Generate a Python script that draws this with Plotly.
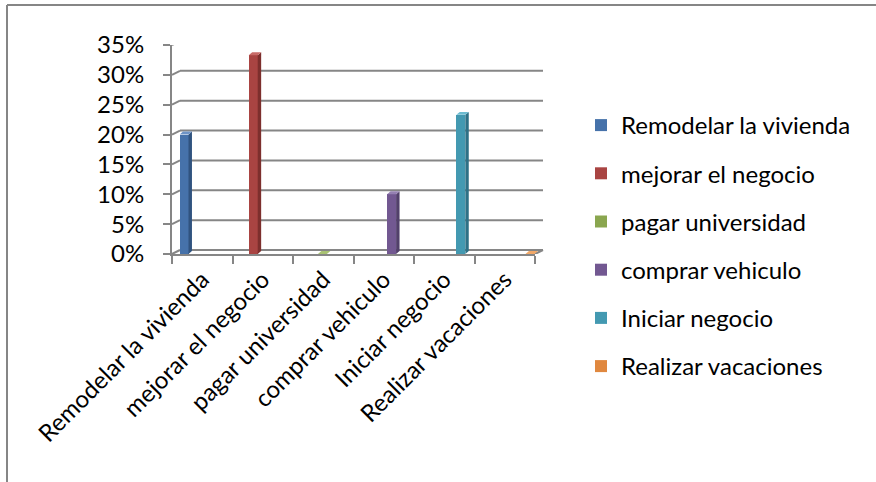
import plotly.graph_objects as go

# ---- data -------------------------------------------------------------
categories = [
    "Remodelar la vivienda",
    "mejorar el negocio",
    "pagar universidad",
    "comprar vehiculo",
    "Iniciar negocio",
    "Realizar vacaciones",
]
shares = [0.20, 0.333, 0.0, 0.10, 0.233, 0.0]
y_ticks = [0.0, 0.05, 0.10, 0.15, 0.20, 0.25, 0.30, 0.35]
y_tick_labels = ["0%", "5%", "10%", "15%", "20%", "25%", "30%", "35%"]

# ---- styling ----------------------------------------------------------
front_colors = ["#4672AA", "#A94442", "#8AA64F", "#725891", "#4399B1", "#E0883F"]
side_colors = ["#30537F", "#7D2F2D", "#657C38", "#52406B", "#2E7186", "#A8632C"]
top_colors = ["#6D93C6", "#C86A67", "#A9C273", "#9580B2", "#6CBBD0", "#F2A868"]
GRID = "#868686"
FONT = dict(family="Lato", size=24, color="#000000")

W, H = 876, 482


def px(x):
    return x / W


def py(y):
    return 1 - y / H


BAR_W = 0.13      # bar width in bar-axis units
DEPTH_X = 0.05    # 3D depth offset, bar-axis units
DEPTH_Y = 0.005   # 3D depth offset, value units

fig = go.Figure()

for i, (name, v) in enumerate(zip(categories, shares)):
    left, right = i - BAR_W / 2, i + BAR_W / 2
    fig.add_trace(go.Bar(
        x=[i], y=[v], width=BAR_W, name=name, legendgroup=name,
        marker=dict(color=front_colors[i], line_width=0),
        xaxis="x2", yaxis="y", hoverinfo="skip",
    ))
    # side face
    fig.add_trace(go.Scatter(
        x=[right, right, right + DEPTH_X, right + DEPTH_X, right],
        y=[0, v, v + DEPTH_Y, DEPTH_Y, 0],
        fill="toself", fillcolor=side_colors[i], mode="lines",
        line=dict(width=0, color=side_colors[i]),
        showlegend=False, legendgroup=name, hoverinfo="skip",
        xaxis="x2", yaxis="y",
    ))
    # top face
    fig.add_trace(go.Scatter(
        x=[left, right, right + DEPTH_X, left + DEPTH_X, left],
        y=[v, v, v + DEPTH_Y, v + DEPTH_Y, v],
        fill="toself", fillcolor=top_colors[i], mode="lines",
        line=dict(width=0, color=top_colors[i]),
        showlegend=False, legendgroup=name, hoverinfo="skip",
        xaxis="x2", yaxis="y",
    ))

# back wall gridlines with their short diagonal joins to the value axis
shapes = []
for v in y_ticks:
    shapes.append(dict(
        type="line", layer="below", xref="paper", yref="y",
        ysizemode="pixel", yanchor=v,
        x0=px(180), x1=px(543), y0=4, y1=4,
        line=dict(color=GRID, width=2),
    ))
    shapes.append(dict(
        type="line", layer="below", xref="paper", yref="y",
        ysizemode="pixel", yanchor=v,
        x0=px(172), x1=px(180), y0=0, y1=4,
        line=dict(color=GRID, width=2),
    ))
# right end of the floor
shapes.append(dict(
    type="line", layer="below", xref="paper", yref="y",
    ysizemode="pixel", yanchor=y_ticks[0],
    x0=px(535), x1=px(543), y0=0, y1=4,
    line=dict(color=GRID, width=2),
))
# chart frame
shapes.append(dict(type="line", xref="paper", yref="paper",
                   x0=px(7), x1=1, y0=py(5), y1=py(5),
                   line=dict(color=GRID, width=2)))
shapes.append(dict(type="line", xref="paper", yref="paper",
                   x0=px(7), x1=px(7), y0=py(5), y1=0,
                   line=dict(color=GRID, width=2)))

fig.update_layout(
    width=W, height=H, autosize=False,
    margin=dict(l=0, r=0, t=0, b=0, autoexpand=False),
    paper_bgcolor="white", plot_bgcolor="rgba(0,0,0,0)",
    font=FONT,
    bargap=0,
    shapes=shapes,
    xaxis=dict(
        domain=[px(172), px(535)], anchor="y",
        type="category", categoryorder="array", categoryarray=categories,
        range=[-0.5, len(categories) - 0.5],
        tickson="boundaries", ticks="outside", ticklen=8,
        tickcolor=GRID, tickwidth=2,
        showline=True, linecolor=GRID, linewidth=2,
        showgrid=False, zeroline=False, automargin=False,
        tickangle=-45, tickfont=FONT, fixedrange=True,
    ),
    xaxis2=dict(
        domain=[px(180), px(543)], anchor="y",
        range=[-0.0578, 5.188], visible=False, fixedrange=True,
    ),
    yaxis=dict(
        domain=[py(254), py(45)], anchor="x",
        range=[0, 0.35], tickvals=y_ticks, ticktext=y_tick_labels,
        ticks="outside", ticklen=7, tickcolor=GRID, tickwidth=2,
        showline=True, linecolor=GRID, linewidth=2,
        showgrid=False, zeroline=False, tickfont=FONT, automargin=False,
        ticklabelstandoff=14, fixedrange=True,
    ),
    legend=dict(
        x=px(581), y=py(103), xanchor="left", yanchor="top",
        font=FONT, tracegroupgap=14, bgcolor="rgba(0,0,0,0)",
    ),
)

# keep the category axis populated so every label is drawn
fig.add_trace(go.Scatter(x=categories, y=[None] * len(categories),
                         xaxis="x", yaxis="y", showlegend=False,
                         hoverinfo="skip", mode="markers"))

fig.write_html("out.html")
